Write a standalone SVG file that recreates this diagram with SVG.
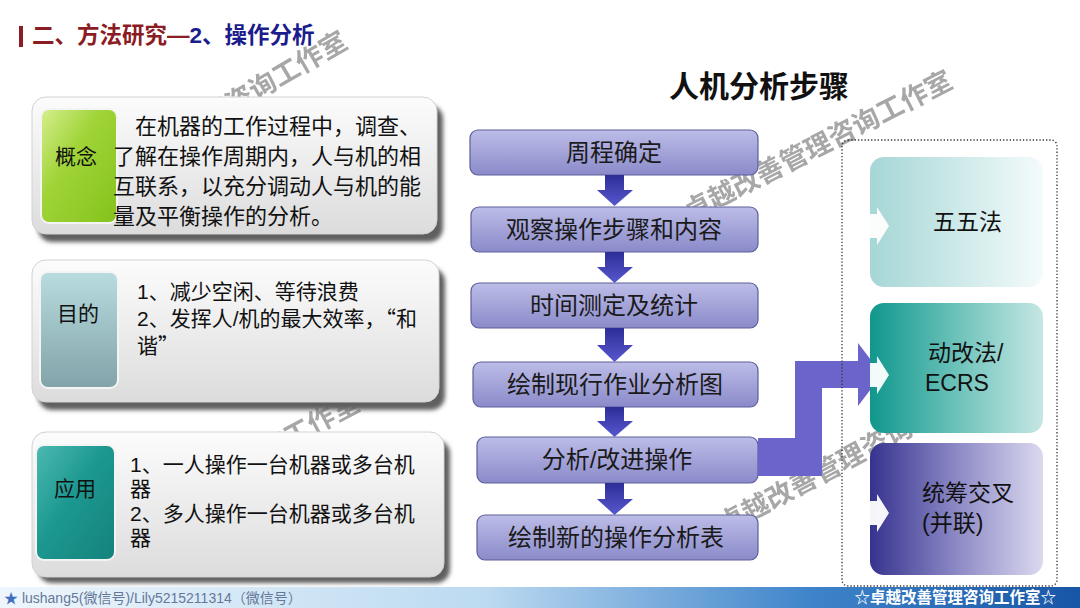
<svg xmlns="http://www.w3.org/2000/svg" width="1080" height="608" viewBox="0 0 1080 608">
<defs>
  <linearGradient id="gPanel" x1="0" y1="0" x2="0" y2="1"><stop offset="0" stop-color="#fcfcfc"/><stop offset="1" stop-color="#dcdcdc"/></linearGradient>
  <linearGradient id="gGreen" x1="0" y1="0" x2="1" y2="1"><stop offset="0" stop-color="#d6ef8e"/><stop offset="0.4" stop-color="#a0d438"/><stop offset="1" stop-color="#84c21c"/></linearGradient>
  <linearGradient id="gGray" x1="0" y1="0" x2="0" y2="1"><stop offset="0" stop-color="#b8dcdf"/><stop offset="1" stop-color="#82a3a9"/></linearGradient>
  <linearGradient id="gTeal" x1="0" y1="0" x2="1" y2="1"><stop offset="0" stop-color="#4cbab2"/><stop offset="0.45" stop-color="#1c9890"/><stop offset="1" stop-color="#14827c"/></linearGradient>
  <linearGradient id="gFlow" x1="0" y1="0" x2="0" y2="1"><stop offset="0" stop-color="#bdbde8"/><stop offset="1" stop-color="#8a8aca"/></linearGradient>
  <linearGradient id="gDown" x1="0" y1="0" x2="0" y2="1"><stop offset="0" stop-color="#2d2d98"/><stop offset="1" stop-color="#5858cf"/></linearGradient>
  <linearGradient id="gA" x1="0" y1="0" x2="1" y2="0"><stop offset="0" stop-color="#a6d6d6"/><stop offset="1" stop-color="#f4fbfb"/></linearGradient>
  <linearGradient id="gB" x1="0" y1="0" x2="1" y2="0"><stop offset="0" stop-color="#10978d"/><stop offset="0.5" stop-color="#6cc2ba"/><stop offset="1" stop-color="#c6e7e3"/></linearGradient>
  <linearGradient id="gC" x1="0" y1="0" x2="1" y2="0"><stop offset="0" stop-color="#36338f"/><stop offset="0.5" stop-color="#8c89c6"/><stop offset="1" stop-color="#dbd9ef"/></linearGradient>
  <linearGradient id="gFoot" x1="0" y1="0" x2="1" y2="0"><stop offset="0" stop-color="#eef6fc"/><stop offset="0.45" stop-color="#bcdaf1"/><stop offset="0.75" stop-color="#3f84ca"/><stop offset="1" stop-color="#1756a6"/></linearGradient>
  <filter id="blur" x="-5%" y="-10%" width="115%" height="130%"><feGaussianBlur stdDeviation="2"/></filter>
</defs>
<style>
  .f{font-family:"Liberation Sans","Noto Sans CJK SC",sans-serif}
  .wm{font-family:"Noto Sans CJK SC",sans-serif;font-size:27px;font-weight:bold;fill:#8a8a8a;opacity:.75;text-anchor:middle;dominant-baseline:central}
  .panel{fill:url(#gPanel);stroke:#d2d2d2;stroke-width:1}
  .shadow{fill:#5e5e5e;filter:url(#blur)}
  .tag{stroke:#f4f4f4;stroke-width:2}
  .tagtxt{font-size:21px;fill:#111;text-anchor:middle}
  .body{font-size:22px;fill:#111}
  .body2{font-size:21px;fill:#111}
  .flowbox{fill:url(#gFlow);stroke:#5e5e9c;stroke-width:1.2}
  .flowtxt{font-size:24px;fill:#1a1a1a;text-anchor:middle}
  .down{fill:url(#gDown)}
  .rtxt{font-size:23px;fill:#111}
  .notch{fill:#ffffff;opacity:.95}
</style>
<rect x="0" y="0" width="1080" height="608" fill="#ffffff"/>

<g id="title">
  <rect x="19" y="26" width="4" height="21" fill="#8b1c24"/>
  <text class="f" x="32" y="43" font-size="22.5" font-weight="bold"><tspan fill="#8b1c24">二、方法研究—</tspan><tspan fill="#1c1c8c">2、操作分析</tspan></text>
</g>

<g id="watermarks">
  <text class="wm" transform="translate(215,111) rotate(-30)">卓越改善管理咨询工作室</text>
  <text class="wm" transform="translate(817,144) rotate(-27)">卓越改善管理咨询工作室</text>
  <text class="wm" transform="translate(850,455) rotate(-28)">卓越改善管理咨询工作室</text>
  <text class="wm" transform="translate(225,469) rotate(-28)">卓越改善管理咨询工作室</text>
</g>

<g id="concept">
  <rect class="shadow" x="38" y="105" width="405" height="137" rx="14"/>
  <rect class="panel" x="32" y="97" width="405" height="137" rx="14"/>
  <rect class="tag" x="41" y="109" width="76" height="114" rx="8" fill="url(#gGreen)"/>
  <text class="f tagtxt" x="76" y="164">概念</text>
  <text class="f body" x="135" y="134">在机器的工作过程中，调查、</text>
  <text class="f body" x="113" y="164">了解在操作周期内，人与机的相</text>
  <text class="f body" x="113" y="194">互联系，以充分调动人与机的能</text>
  <text class="f body" x="113" y="224">量及平衡操作的分析。</text>
</g>

<g id="purpose">
  <rect class="shadow" x="38" y="268" width="407" height="142" rx="14"/>
  <rect class="panel" x="32" y="260" width="407" height="142" rx="14"/>
  <rect class="tag" x="40" y="272" width="78" height="116" rx="8" fill="url(#gGray)"/>
  <text class="f tagtxt" x="78" y="321">目的</text>
  <text class="f body2" x="137" y="299">1、减少空闲、等待浪费</text>
  <text class="f body2" x="137" y="326">2、发挥人/机的最大效率，<tspan font-family="Noto Sans CJK SC, sans-serif">“</tspan>和</text>
  <text class="f body2" x="137" y="353">谐<tspan font-family="Noto Sans CJK SC, sans-serif">”</tspan></text>
</g>

<g id="application">
  <rect class="shadow" x="38" y="440" width="412" height="143" rx="14"/>
  <rect class="panel" x="32" y="432" width="412" height="145" rx="14"/>
  <rect class="tag" x="36" y="445" width="79" height="115" rx="8" fill="url(#gTeal)"/>
  <text class="f tagtxt" x="75" y="496">应用</text>
  <text class="f body2" x="130" y="472">1、一人操作一台机器或多台机</text>
  <text class="f body2" x="130" y="496">器</text>
  <text class="f body2" x="130" y="521">2、多人操作一台机器或多台机</text>
  <text class="f body2" x="130" y="545">器</text>
</g>

<g id="steps-title">
  <text class="f" x="669" y="97" font-size="30" font-weight="bold" fill="#111">人机分析步骤</text>
</g>

<g id="step1"><rect class="flowbox" x="470" y="130" width="288" height="45" rx="8"/><text class="f flowtxt" x="614" y="161">周程确定</text></g>
<g id="step2"><rect class="flowbox" x="471" y="207" width="287" height="45" rx="8"/><text class="f flowtxt" x="614" y="238">观察操作步骤和内容</text></g>
<g id="step3"><rect class="flowbox" x="471" y="283" width="287" height="45" rx="8"/><text class="f flowtxt" x="614" y="314">时间测定及统计</text></g>
<g id="step4"><rect class="flowbox" x="473" y="362" width="285" height="45" rx="8"/><text class="f flowtxt" x="615" y="393">绘制现行作业分析图</text></g>
<g id="step5"><rect class="flowbox" x="477" y="437" width="281" height="46" rx="8"/><text class="f flowtxt" x="617" y="468">分析/改进操作</text></g>
<g id="step6"><rect class="flowbox" x="477" y="515" width="281" height="45" rx="8"/><text class="f flowtxt" x="616" y="546">绘制新的操作分析表</text></g>

<g id="connectors">
  <polygon class="down" points="605,175 624,175 624,190 633,190 614.5,206 597,190 605,190"/>
  <polygon class="down" points="605,252 624,252 624,267 633,267 614.5,283 597,267 605,267"/>
  <polygon class="down" points="605,328 624,328 624,345 633,345 614.5,362 597,345 605,345"/>
  <polygon class="down" points="605,407 624,407 624,421 633,421 614.5,437 597,421 605,421"/>
  <polygon class="down" points="605,483 624,483 624,499 633,499 614.5,515 597,499 605,499"/>
  <polygon fill="#6b64cb" points="758,438 795,438 795,361 858,361 858,343 882,374.5 858,406 858,388 822,388 822,476 758,476"/>
</g>

<g id="frame">
  <rect x="842" y="140" width="215" height="446" rx="6" fill="none" stroke="#333" stroke-width="1.3" stroke-dasharray="1.3 2"/>
</g>

<g id="method-55">
  <rect x="870" y="157" width="173" height="130" rx="14" fill="url(#gA)"/>
  <polygon class="notch" points="870,214 877,214 877,207 889,226 877,245 877,238 870,238"/>
  <text class="f rtxt" x="933" y="230">五五法</text>
</g>
<g id="method-ecrs">
  <rect x="870" y="303" width="173" height="130" rx="14" fill="url(#gB)"/>
  <polygon class="notch" points="870,363 877,363 877,356 889,375 877,394 877,387 870,387"/>
  <text class="f rtxt" x="928" y="361">动改法/</text>
  <text class="f rtxt" x="925" y="391">ECRS</text>
</g>
<g id="method-parallel">
  <rect x="870" y="443" width="173" height="132" rx="14" fill="url(#gC)"/>
  <polygon class="notch" points="870,501 877,501 877,494 889,513 877,532 877,525 870,525"/>
  <text class="f rtxt" x="922" y="501">统筹交叉</text>
  <text class="f rtxt" x="922" y="531">(并联)</text>
</g>

<g id="footer">
  <rect x="0" y="587" width="1080" height="21" fill="url(#gFoot)"/>
  <text class="f" x="4" y="603" font-size="14" fill="#66789a"><tspan fill="#3d6fc0">★</tspan> lushang5(微信号)/Lily5215211314（微信号）</text>
  <text class="f" x="1056" y="603" font-size="15.5" font-weight="bold" fill="#ffffff" text-anchor="end">☆卓越改善管理咨询工作室☆</text>
</g>
</svg>
